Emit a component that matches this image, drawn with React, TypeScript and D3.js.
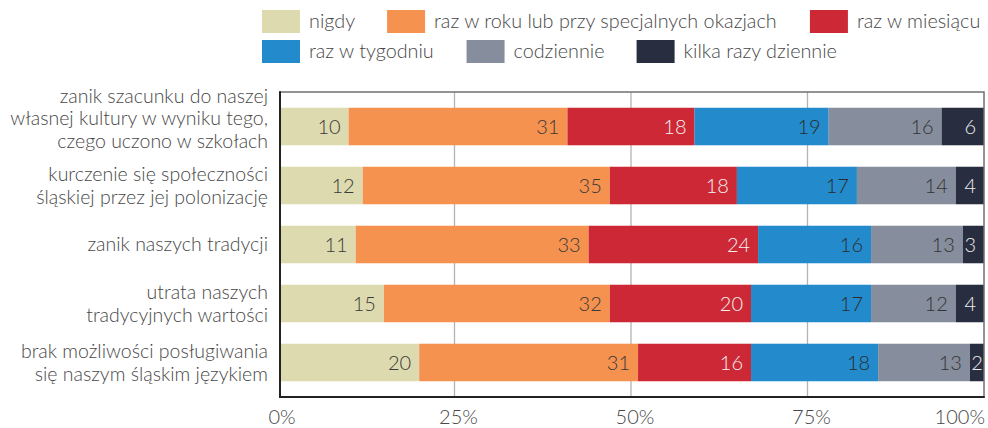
import React, { useEffect } from "react";
import * as d3 from "d3";

// categories (multi-line labels, top to bottom)
const categories = [
  ["zanik szacunku do naszej", "własnej kultury w wyniku tego,", "czego uczono w szkołach"],
  ["kurczenie się społeczności", "śląskiej przez jej polonizację"],
  ["zanik naszych tradycji"],
  ["utrata naszych", "tradycyjnych wartości"],
  ["brak możliwości posługiwania", "się naszym śląskim językiem"],
];

const seriesNames = [
  "nigdy",
  "raz w roku lub przy specjalnych okazjach",
  "raz w miesiącu",
  "raz w tygodniu",
  "codziennie",
  "kilka razy dziennie",
];

// values per series, one per category
const nigdy = [10, 12, 11, 15, 20];
const razWRoku = [31, 35, 33, 32, 31];
const razWMiesiacu = [18, 18, 24, 20, 16];
const razWTygodniu = [19, 17, 16, 17, 18];
const codziennie = [16, 14, 13, 12, 13];
const kilkaRazy = [6, 4, 3, 4, 2];

const xTicks = [0, 25, 50, 75, 100];

const colors = ["#dedab0", "#f59250", "#cd2835", "#238bcc", "#868e9e", "#282d40"];
const labelColors = ["#3a3a3a", "#3a3a3a", "#f2f2f2", "#2b2b2b", "#333333", "#eeeeee"];

const W = 988;
const H = 428;
const plot = { left: 280, right: 984, top: 92, bottom: 397 };
const font = "Lato, 'Open Sans', sans-serif";
const weight = 300;

const measure = (text: string, size: number) => {
  const ctx = document.createElement("canvas").getContext("2d");
  if (!ctx) return text.length * size * 0.5;
  ctx.font = `${weight} ${size}px Lato`;
  return ctx.measureText(text).width;
};

export default function App() {
  useEffect(() => {
    document.body.style.margin = "0";
  }, []);

  const allSeries = [nigdy, razWRoku, razWMiesiacu, razWTygodniu, codziennie, kilkaRazy];
  const rows = categories.map((c, i) => {
    const r: any = { key: i };
    seriesNames.forEach((s, j) => (r[s] = allSeries[j][i]));
    return r;
  });
  const stacked = d3.stack<any>().keys(seriesNames)(rows);

  const x = d3.scaleLinear().domain([0, 100]).range([278, 984]);
  const y = d3
    .scaleBand<number>()
    .domain(categories.map((_, i) => i))
    .range([plot.top, plot.bottom])
    .paddingInner(0.364)
    .paddingOuter(0.267);

  // legend layout: 2 rows of 3
  const legendSize = 19.8;
  const legendItems: { name: string; color: string; lx: number; ly: number }[] = [];
  [0, 1].forEach((row) => {
    let cx = 262;
    for (let k = 0; k < 3; k++) {
      const idx = row * 3 + k;
      legendItems.push({ name: seriesNames[idx], color: colors[idx], lx: cx, ly: 10 + row * 30 });
      cx += 47 + measure(seriesNames[idx], legendSize) + 32;
    }
  });

  return (
    <svg width={W} height={H} style={{ display: "block", fontFamily: font, fontWeight: weight }}>
      <defs>
        <clipPath id="plotClip">
          <rect x={plot.left} y={plot.top} width={plot.right - plot.left} height={plot.bottom - plot.top} />
        </clipPath>
      </defs>

      {/* legend */}
      {legendItems.map((d) => (
        <g key={d.name}>
          <rect x={d.lx} y={d.ly} width={38} height={23} fill={d.color} />
          <text x={d.lx + 47} y={d.ly + 11.5} dy="0.35em" fontSize={legendSize} fill="#474747">
            {d.name}
          </text>
        </g>
      ))}

      {/* gridlines */}
      {xTicks.slice(1, -1).map((t) => (
        <line key={t} x1={x(t)} x2={x(t)} y1={plot.top} y2={plot.bottom} stroke="#b3b3b3" strokeWidth={1.3} />
      ))}

      {/* bars */}
      <g clipPath="url(#plotClip)">
        {stacked.map((s, si) =>
          s.map((d, i) => (
            <rect
              key={`${si}-${i}`}
              x={x(d[0])}
              y={y(i)}
              width={x(d[1]) - x(d[0])}
              height={y.bandwidth()}
              fill={colors[si]}
            />
          ))
        )}
      </g>

      {/* value labels */}
      {stacked.map((s, si) =>
        s.map((d, i) => {
          const x0 = x(d[0]);
          const x1 = x(d[1]);
          const narrow = x1 - x0 < 18;
          return (
            <text
              key={`l${si}-${i}`}
              x={narrow ? (x0 + x1) / 2 : x1 - 8}
              y={(y(i) as number) + y.bandwidth() / 2}
              dy="0.36em"
              textAnchor={narrow ? "middle" : "end"}
              fontSize={20}
              fill={labelColors[si]}
            >
              {d[1] - d[0]}
            </text>
          );
        })
      )}

      {/* frame */}
      <rect
        x={plot.left}
        y={plot.top}
        width={plot.right - plot.left}
        height={plot.bottom - plot.top}
        fill="none"
        stroke="#707070"
        strokeWidth={1.5}
      />
      <line x1={plot.left} x2={plot.left} y1={plot.top - 0.75} y2={plot.bottom + 1} stroke="#222" strokeWidth={2} />
      <line x1={plot.left - 1} x2={plot.right + 0.75} y1={plot.bottom} y2={plot.bottom} stroke="#222" strokeWidth={2} />

      {/* category labels */}
      {categories.map((lines, i) => {
        const cy = (y(i) as number) + y.bandwidth() / 2 - (lines.length > 2 ? 8 : 0);
        const lh = 22.7;
        const start = cy - ((lines.length - 1) * lh) / 2;
        return (
          <text key={i} textAnchor="end" fontSize={19.5} fill="#474747">
            {lines.map((ln, k) => (
              <tspan key={k} x={268} y={start + k * lh} dy="0.35em">
                {ln}
              </tspan>
            ))}
          </text>
        );
      })}

      {/* x tick labels */}
      {xTicks.map((t, i) => (
        <text
          key={t}
          x={i === xTicks.length - 1 ? x(t) + 1 : x(t) + 4}
          y={424}
          textAnchor={i === xTicks.length - 1 ? "end" : "middle"}
          fontSize={20}
          fill="#474747"
        >
          {t}%
        </text>
      ))}
    </svg>
  );
}
